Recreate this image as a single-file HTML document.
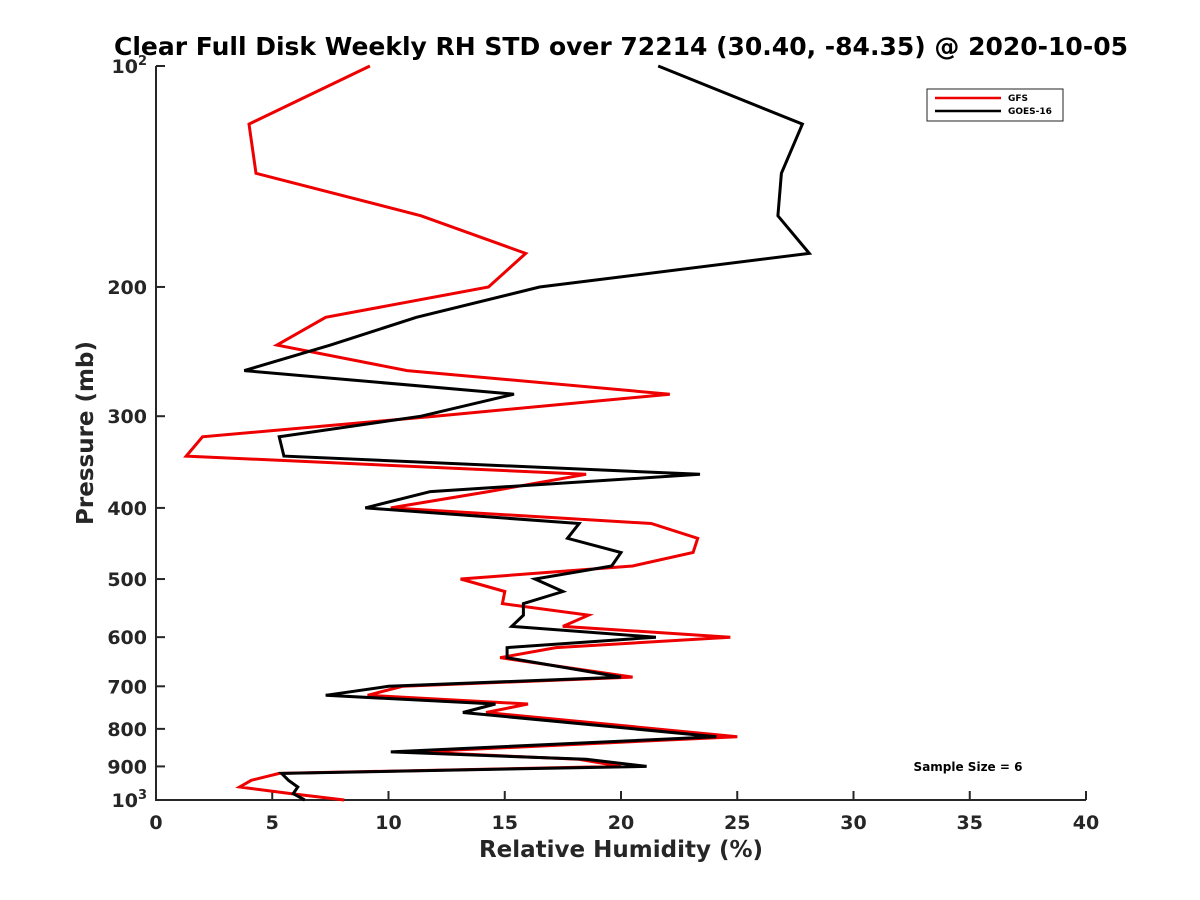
<!DOCTYPE html>
<html><head><meta charset="utf-8"><style>
body{margin:0;background:#fff;}
svg{display:block;font-family:"DejaVu Sans","Liberation Sans",sans-serif;}
</style></head><body>
<svg id="chart" width="1200" height="900">
<text x="621" y="55" text-anchor="middle" font-size="25" font-weight="bold" fill="#000">Clear Full Disk Weekly RH STD over 72214 (30.40, -84.35) @ 2020-10-05</text>
<text x="621" y="857" text-anchor="middle" font-size="23" font-weight="bold" fill="#262626">Relative Humidity (%)</text>
<text transform="translate(93,433) rotate(-90)" text-anchor="middle" font-size="23" font-weight="bold" fill="#262626">Pressure (mb)</text>
<g id="axes"></g>
<g id="series"></g>
<g>
<rect x="927" y="89" width="136" height="32" fill="#fff" stroke="#222" stroke-width="1"/>
<line x1="935" y1="98" x2="1001" y2="98" stroke="#e00" stroke-width="2.5"/>
<text x="1008" y="101" font-size="9" font-weight="bold">GFS</text>
<line x1="935" y1="111" x2="1001" y2="111" stroke="#000" stroke-width="2.5"/>
<text x="1008" y="114" font-size="9" font-weight="bold">GOES-16</text>
</g>
<text x="968" y="771" text-anchor="middle" font-size="12" font-weight="bold">Sample Size = 6</text>
</svg>
<script>
const pressures=[100,120,140,160,180,200,220,240,260,280,300,320,340,360,380,400,420,440,460,480,500,520,540,560,580,600,620,640,680,700,720,740,760,820,860,880,900,920,940,960,980,1000];
const gfsValues=[9.2,4.0,4.3,11.4,15.9,14.3,7.3,5.2,10.8,22.1,12.0,2.0,1.3,18.5,14.3,10.1,21.3,23.3,23.1,20.5,13.1,15.0,14.9,18.6,17.5,24.7,17.2,14.8,20.5,10.6,9.1,16.0,14.2,25.0,11.2,18.2,20.0,5.3,4.1,3.6,5.8,8.1];
const goesValues=[21.6,27.8,26.9,26.75,28.1,16.5,11.2,7.5,3.8,15.4,11.4,5.3,5.5,23.4,11.8,9.0,18.2,17.7,20.0,19.6,16.3,17.5,15.8,15.8,15.3,21.5,15.1,15.1,20.0,10.0,7.3,14.6,13.2,24.1,10.1,18.5,21.1,5.4,5.7,6.1,5.9,6.4];
const xTicks=[0,5,10,15,20,25,30,35,40];
const yTicks=[100,200,300,400,500,600,700,800,900,1000];
const yTickLabels=["","200","300","400","500","600","700","800","900",""];
const NS="http://www.w3.org/2000/svg";
const X0=156,X1=1086,Y0=66,Y1=800;
function xs(v){return X0+(v/40)*(X1-X0);}
function ys(p){return Y0+(Math.log10(p)-2)*(Y1-Y0);}
const axes=document.getElementById('axes');
function mk(tag,attrs,parent){const e=document.createElementNS(NS,tag);for(const k in attrs)e.setAttribute(k,attrs[k]);parent.appendChild(e);return e;}
let a=mk('path',{d:`M${X0},${Y0}V${Y1}H${X1}`,fill:'none',stroke:'#262626','stroke-width':2},axes);


xTicks.forEach(v=>{
 const t=mk('line',{x1:xs(v),x2:xs(v),y1:Y1,y2:Y1-9,stroke:'#262626','stroke-width':2},axes);
 
 
 const l=mk('text',{x:xs(v),y:Y1+29,'text-anchor':'middle','font-size':19,'font-weight':'bold',fill:'#262626'},axes);
 l.textContent=v;
 
 
});
yTicks.forEach((p,i)=>{
 const t=mk('line',{x1:X0,x2:X0+9,y1:ys(p),y2:ys(p),stroke:'#262626','stroke-width':2},axes);
 
 
 const l=mk('text',{x:X0-9,y:ys(p)+7,'text-anchor':'end','font-size':19,'font-weight':'bold',fill:'#262626'},axes);
 l.textContent=yTickLabels[i];
 
 
});
[[100,"2"],[1000,"3"]].forEach(([p,e])=>{
 const l=mk('text',{x:X0-9,y:ys(p)+7,'text-anchor':'end','font-size':19,'font-weight':'bold',fill:'#262626'},axes);
 
 
 l.textContent='10';
 const s=mk('tspan',{'font-size':13,dy:-8},l);
 s.textContent=e;
});
const sg=document.getElementById('series');
function line(vals,color,name){
 const d=vals.map((v,i)=>(i?'L':'M')+xs(v).toFixed(1)+','+ys(pressures[i]).toFixed(1)).join('');
 const p=mk('path',{d:d,fill:'none',stroke:color,'stroke-width':3,'stroke-linejoin':'miter'},sg);
 
 
}
line(gfsValues,'#e00','gfs-line');
line(goesValues,'#000','goes16-line');
</script>
</body></html>
